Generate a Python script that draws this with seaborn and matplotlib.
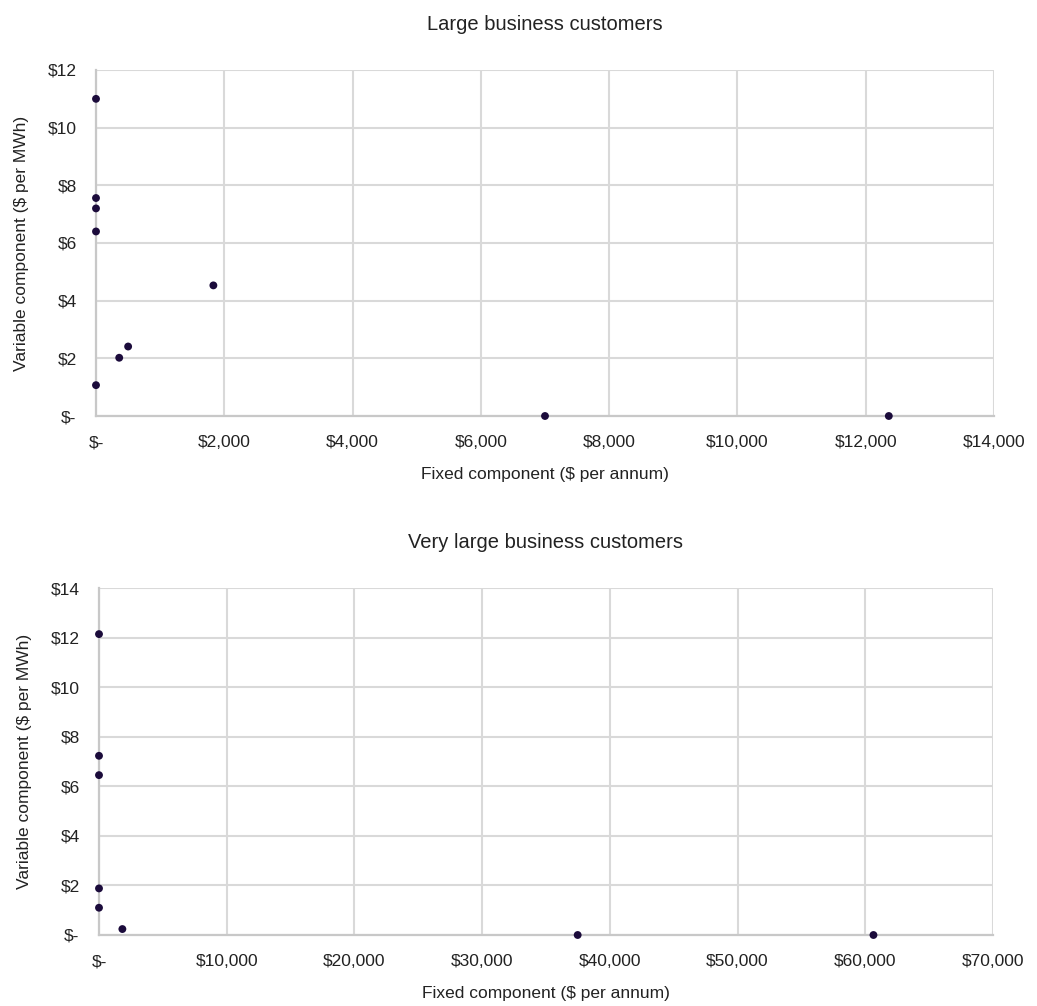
import matplotlib
matplotlib.use("Agg")
import matplotlib.pyplot as plt
import matplotlib.ticker as mticker
import seaborn as sns
import pandas as pd
from matplotlib import font_manager

# Large business customers: fixed ($/yr) vs variable ($/MWh) components
large_fixed = [0, 0, 0, 0, 1830, 362, 501, 0, 7000, 12360]
large_variable = [11.0, 7.56, 7.20, 6.40, 4.53, 2.02, 2.41, 1.07, 0.0, 0.0]

# Very large business customers
vlarge_fixed = [0, 0, 0, 0, 0, 1830, 37480, 60640]
vlarge_variable = [12.14, 7.23, 6.45, 1.88, 1.10, 0.24, 0.0, 0.0]

titles = ["Large business customers", "Very large business customers"]
x_label = "Fixed component ($ per annum)"
y_label = "Variable component ($ per MWh)"

sns.set_theme(style="white")
available = {f.name for f in font_manager.fontManager.ttflist}
family = "Liberation Sans Narrow" if "Liberation Sans Narrow" in available else "Liberation Sans"
plt.rcParams["font.family"] = [family, "DejaVu Sans"]

dot_color = "#1b0b3b"
grid_color = "#d9d9d9"
text_color = "#222222"


def dollar_fmt(v, pos):
    if abs(v) < 1e-9:
        return "$-"
    return "${:,.0f}".format(v)


fig = plt.figure(figsize=(10.37, 10.06), dpi=100)
W, H = 1037, 1006
ax1 = fig.add_axes([96 / W, 1 - 416 / H, (994 - 96) / W, (416 - 70) / H])
ax2 = fig.add_axes([99 / W, 1 - 935 / H, (993 - 99) / W, (935 - 588) / H])

panels = [
    (ax1, large_fixed, large_variable, (0, 14000), 2000, (0, 12), 2),
    (ax2, vlarge_fixed, vlarge_variable, (0, 70000), 10000, (0, 14), 2),
]

for (ax, xs, ys, xlim, xstep, ylim, ystep), title in zip(panels, titles):
    df = pd.DataFrame({"fixed": xs, "variable": ys})
    sns.scatterplot(data=df, x="fixed", y="variable", ax=ax, color=dot_color,
                    s=32, edgecolor="none", clip_on=False, zorder=5)
    ax.set_xlim(*xlim)
    ax.set_ylim(*ylim)
    ax.xaxis.set_major_locator(mticker.MultipleLocator(xstep))
    ax.yaxis.set_major_locator(mticker.MultipleLocator(ystep))
    ax.xaxis.set_major_formatter(mticker.FuncFormatter(dollar_fmt))
    ax.yaxis.set_major_formatter(mticker.FuncFormatter(dollar_fmt))
    ax.grid(True, color=grid_color, linewidth=1.5)
    ax.set_axisbelow(True)
    for side in ["top", "right"]:
        ax.spines[side].set_visible(False)
    for side in ["left", "bottom"]:
        ax.spines[side].set_color("#c8c8c8")
        ax.spines[side].set_linewidth(1.6)
    ax.tick_params(axis="both", length=0, labelsize=12.5, colors=text_color, pad=14)
    ax.set_xlabel(x_label, fontsize=12.5, color=text_color, labelpad=12)
    ax.set_ylabel(y_label, fontsize=12.5, color=text_color, labelpad=13)
    ax.set_title(title, fontsize=14.5, color=text_color, pad=29)

fig.savefig("out.png", dpi=100)
